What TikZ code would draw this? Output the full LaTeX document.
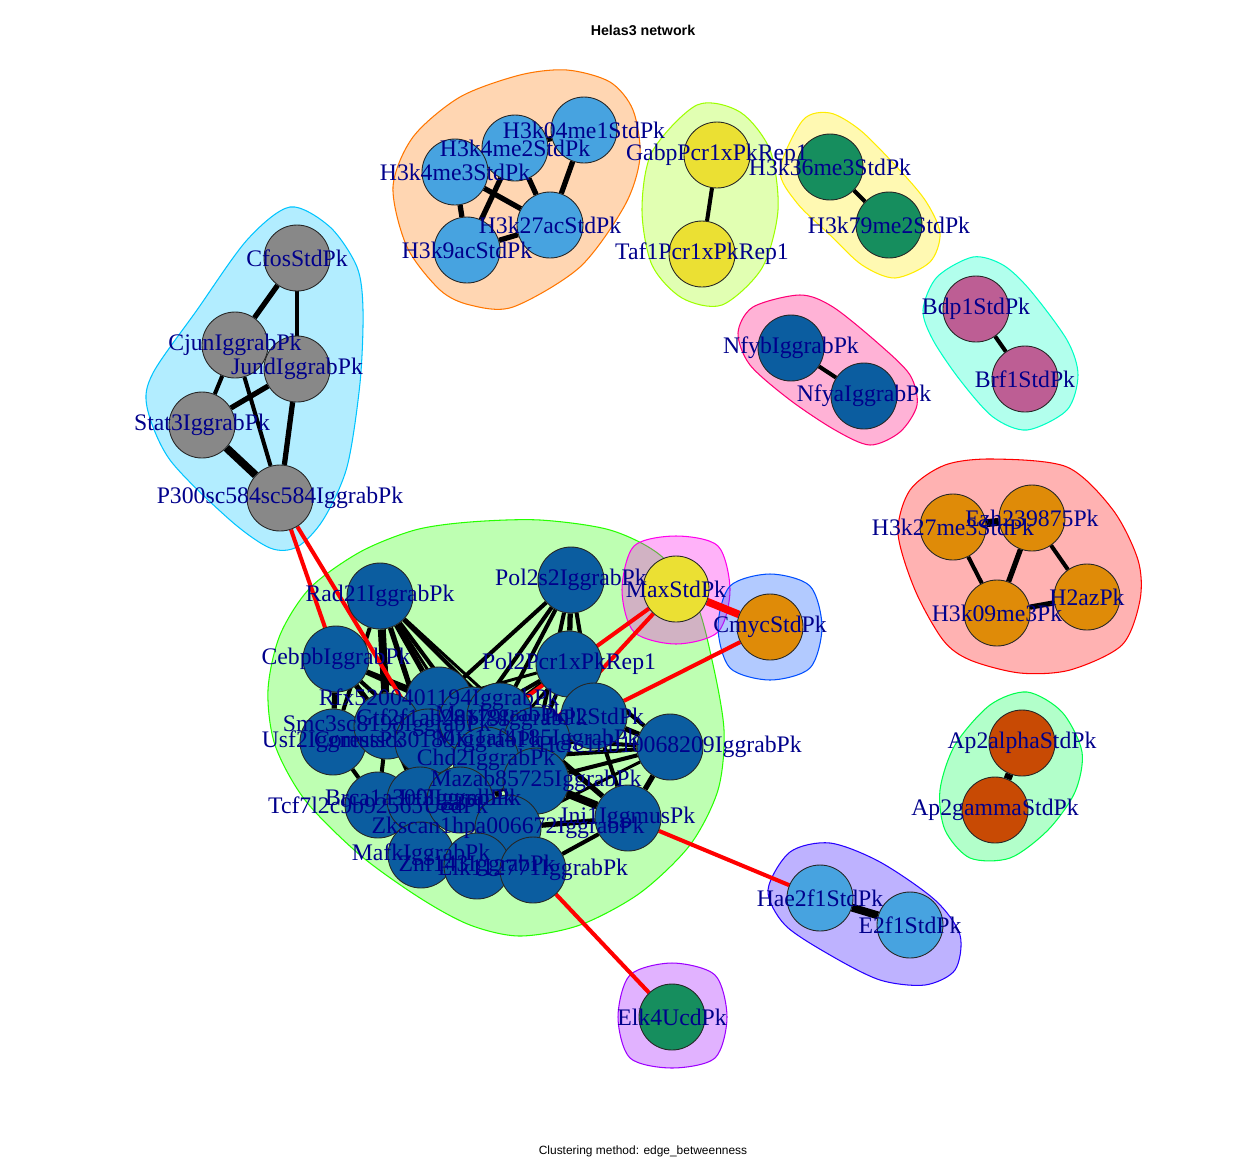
\documentclass[tikz,border=0pt]{standalone}
\usepackage{fontspec}
\setmainfont{Liberation Serif}
\newfontfamily\helvfont{Liberation Sans}
\usepackage{tikz}
\pgfdeclarelayer{hulls}
\pgfdeclarelayer{edges}
\pgfsetlayers{hulls,edges,main}

\definecolor{rbred}{HTML}{FF0000}
\definecolor{rborange}{HTML}{FF7600}
\definecolor{rbyellow}{HTML}{FFEC00}
\definecolor{rblime}{HTML}{9DFF00}
\definecolor{rbgreen}{HTML}{27FF00}
\definecolor{rbspring}{HTML}{00FF4E}
\definecolor{rbaqua}{HTML}{00FFC4}
\definecolor{rbsky}{HTML}{00C4FF}
\definecolor{rbblue}{HTML}{004EFF}
\definecolor{rbindigo}{HTML}{2700FF}
\definecolor{rbviolet}{HTML}{9D00FF}
\definecolor{rbmagenta}{HTML}{FF00EC}
\definecolor{rbpink}{HTML}{FF0076}
\definecolor{vgray}{HTML}{888888}
\definecolor{vsky}{HTML}{47A3E0}
\definecolor{vyellow}{HTML}{EBE033}
\definecolor{vgreen}{HTML}{168E5E}
\definecolor{vblue}{HTML}{0B5DA0}
\definecolor{vorange}{HTML}{DF8B08}
\definecolor{vvermil}{HTML}{C84A04}
\definecolor{vpurple}{HTML}{BD5E94}
\definecolor{lblblue}{HTML}{00008B}

\tikzstyle{point}=[circle, draw=black!85, line width=0.5pt, minimum size=1.32cm, inner sep=0pt]
\tikzstyle{pointgray}=[point, fill=vgray]
\tikzstyle{pointsky}=[point, fill=vsky]
\tikzstyle{pointyellow}=[point, fill=vyellow]
\tikzstyle{pointgreen}=[point, fill=vgreen]
\tikzstyle{pointblue}=[point, fill=vblue]
\tikzstyle{pointorange}=[point, fill=vorange]
\tikzstyle{pointvermil}=[point, fill=vvermil]
\tikzstyle{pointpurple}=[point, fill=vpurple]
\tikzstyle{lbl}=[text=lblblue, font=\fontsize{13.5}{14}\selectfont, inner sep=0pt]
\tikzstyle{hull}=[line width=0.6pt, fill opacity=0.3]
\tikzstyle{blk1}=[draw=black, line width=1.7pt]
\tikzstyle{blk2}=[draw=black, line width=2.3pt]
\tikzstyle{blk3}=[draw=black, line width=3pt]
\tikzstyle{blk4}=[draw=black, line width=4.5pt]
\tikzstyle{redge}=[draw=red, line width=2.3pt]
\tikzstyle{redgethick}=[draw=red, line width=4.3pt]

\begin{document}
\begin{tikzpicture}[x=0.02cm, y=-0.02cm]
		   \useasboundingbox (0,0) rectangle (1260,1160);
		   \node (title) at (643,30) {\helvfont\bfseries\fontsize{8.1}{10}\selectfont Helas3 network};
		   \node (sub) at (643,1151) {\helvfont\fontsize{6.8}{8}\selectfont Clustering method: edge\_betweenness};

		   \begin{pgfonlayer}{hulls}
			   \path [hull, draw=rbsky, fill=rbsky] plot [smooth cycle] coordinates {(290,207) (330,227) (357,267) (363,310) (360,383) (347,467) (323,520) (297,547) (270,548) (230,520) (170,460) (147,407) (153,373) (197,310) (247,240)};
			   \path [hull, draw=rborange, fill=rborange] plot [smooth cycle] coordinates {(460,97) (520,75) (567,70) (610,82) (633,110) (640,157) (625,205) (580,267) (513,307) (470,305) (440,290) (407,247) (393,187) (413,137)};
			   \path [hull, draw=rblime, fill=rblime] plot [smooth cycle] coordinates {(697,105) (740,112) (770,150) (778,210) (762,268) (722,305) (682,298) (652,265) (642,210) (652,152)};
			   \path [hull, draw=rbyellow, fill=rbyellow] plot [smooth cycle] coordinates {(803,120) (830,113) (860,130) (895,165) (925,200) (940,233) (930,262) (895,278) (862,265) (830,235) (797,203) (780,170)};
			   \path [hull, draw=rbpink, fill=rbpink] plot [smooth cycle] coordinates {(753,307) (800,295) (833,307) (880,345) (910,375) (917,405) (900,432) (870,445) (835,430) (790,400) (750,365) (738,333)};
			   \path [hull, draw=rbaqua, fill=rbaqua] plot [smooth cycle] coordinates {(937,277) (973,257) (1003,265) (1030,290) (1067,340) (1078,375) (1067,410) (1027,430) (993,417) (960,380) (933,340) (923,310)};
			   \path [hull, draw=rbred, fill=rbred] plot [smooth cycle] coordinates {(993,459) (1067,467) (1113,510) (1138,560) (1140,600) (1122,645) (1070,670) (1020,673) (970,660) (943,640) (915,590) (898,533) (910,490) (945,465)};
			   \path [hull, draw=rbspring, fill=rbspring] plot [smooth cycle] coordinates {(1027,692) (1062,712) (1082,752) (1075,792) (1048,830) (1010,858) (970,858) (945,830) (940,790) (955,745) (990,705)};
			   \path [hull, draw=rbgreen, fill=rbgreen] plot [smooth cycle] coordinates {(470,522) (540,520) (610,530) (660,555) (695,600) (712,660) (724,730) (718,790) (690,845) (640,893) (580,925) (520,936) (470,925) (420,898) (360,855) (305,800) (275,745) (268,690) (280,635) (310,588) (360,552) (415,530)};
			   \path [hull, draw=rbmagenta, fill=rbmagenta] plot [smooth cycle] coordinates {(676,536) (718,546) (730,590) (718,632) (676,644) (634,632) (622,590) (634,546)};
			   \path [hull, draw=rbblue, fill=rbblue] plot [smooth cycle] coordinates {(770,574) (810,586) (822,627) (810,668) (770,680) (730,668) (718,627) (730,586)};
			   \path [hull, draw=rbindigo, fill=rbindigo] plot [smooth cycle] coordinates {(790,852) (830,843) (880,862) (935,900) (960,935) (955,970) (925,985) (880,980) (830,955) (785,925) (768,890)};
			   \path [hull, draw=rbviolet, fill=rbviolet] plot [smooth cycle] coordinates {(672,963) (715,975) (727,1017) (715,1058) (672,1068) (630,1058) (618,1017) (630,975)};
		   \end{pgfonlayer}

		   \begin{scope}
			   % P300 group
			   \node (cfos) at (297,258) [pointgray] {};
			   \node (cjun) at (235,345) [pointgray] {};
			   \node (jund) at (297,369) [pointgray] {};
			   \node (stat3) at (202,425) [pointgray] {};
			   \node (p300) at (280,498) [pointgray] {};
			   % histone marks
			   \node (h3k04) at (584,130) [pointsky] {};
			   \node (h3k4me2) at (515,148) [pointsky] {};
			   \node (h3k4me3) at (455,172) [pointsky] {};
			   \node (h3k27ac) at (550,225) [pointsky] {};
			   \node (h3k9ac) at (467,250) [pointsky] {};
			   \node (gabp) at (717,155) [pointyellow] {};
			   \node (taf1) at (702,254) [pointyellow] {};
			   \node (h3k36) at (830,167) [pointgreen] {};
			   \node (h3k79) at (889,225) [pointgreen] {};
			   \node (nfyb) at (791,348) [pointblue] {};
			   \node (nfya) at (864,396) [pointblue] {};
			   \node (bdp1) at (976,309) [pointpurple] {};
			   \node (brf1) at (1025,379) [pointpurple] {};
			   \node (h3k27me3) at (953,527) [pointorange] {};
			   \node (ezh) at (1032,518) [pointorange] {};
			   \node (h2az) at (1087,597) [pointorange] {};
			   \node (h3k09) at (997,613) [pointorange] {};
			   \node (ap2a) at (1022,743) [pointvermil] {};
			   \node (ap2g) at (995,810) [pointvermil] {};
			   \node (hae2f1) at (820,898) [pointsky] {};
			   \node (e2f1) at (910,925) [pointsky] {};
			   \node (elk4) at (672,1017) [pointgreen] {};
			   \node (maxstd) at (676,589) [pointyellow] {};
			   \node (cmyc) at (770,627) [pointorange] {};
			   % big group
			   \node (rad21) at (380,596) [pointblue] {};
			   \node (pol2s2) at (571,580) [pointblue] {};
			   \node (cebpb) at (336,659) [pointblue] {};
			   \node (pol2p) at (569,664) [pointblue] {};
			   \node (hcfc1) at (670,747) [pointblue] {};
			   \node (pol2) at (594,716) [pointblue] {};
			   \node (rfx5) at (439,700) [pointblue] {};
			   \node (usf2) at (333,742) [pointblue] {};
			   \node (smc3) at (387,726) [pointblue] {};
			   \node (corest) at (428,742) [pointblue] {};
			   \node (gtf2f1) at (472,720) [pointblue] {};
			   \node (max) at (500,716) [pointblue] {};
			   \node (mxi1) at (537,740) [pointblue] {};
			   \node (chd2) at (486,760) [pointblue] {};
			   \node (maz) at (536,781) [pointblue] {};
			   \node (ini1) at (628,818) [pointblue] {};
			   \node (tcf7l2) at (378,805) [pointblue] {};
			   \node (brca1) at (420,800) [pointblue] {};
			   \node (irf3) at (460,800) [pointblue] {};
			   \node (zkscan1) at (508,828) [pointblue] {};
			   \node (mafk) at (421,855) [pointblue] {};
			   \node (znf143) at (477,866) [pointblue] {};
			   \node (elk1) at (533,870) [pointblue] {};
		   \end{scope}

		   \begin{pgfonlayer}{edges}
			   \path [blk3] (cfos) edge (cjun);
			   \path [blk2] (cfos) edge (jund);
			   \path [blk2] (cjun) edge (stat3);
			   \path [blk2] (cjun) edge (p300);
			   \path [blk3] (jund) edge (stat3);
			   \path [blk3] (jund) edge (p300);
			   \path [blk4] (stat3) edge (p300);

			   \path [blk3] (h3k04) edge (h3k27ac);
			   \path [blk3] (h3k04) edge (h3k4me2);
			   \path [blk3] (h3k4me2) edge (h3k27ac);
			   \path [blk3] (h3k4me2) edge (h3k9ac);
			   \path [blk3] (h3k4me3) edge (h3k27ac);
			   \path [blk3] (h3k4me3) edge (h3k9ac);
			   \path [blk3] (h3k9ac) edge (h3k27ac);
			   \path [blk2] (gabp) edge (taf1);
			   \path [blk2] (h3k36) edge (h3k79);
			   \path [blk2] (nfyb) edge (nfya);
			   \path [blk2] (bdp1) edge (brf1);
			   \path [blk4] (h3k27me3) edge (ezh);
			   \path [blk2] (h3k27me3) edge (h3k09);
			   \path [blk3] (ezh) edge (h3k09);
			   \path [blk2] (ezh) edge (h2az);
			   \path [blk3] (h3k09) edge (h2az);
			   \path [blk4] (ap2a) edge (ap2g);
			   \path [blk4] (hae2f1) edge (e2f1);

			   \path [blk4] (rad21) edge (smc3);
			   \path [blk3] (rad21) edge (rfx5);
			   \path [blk2] (rad21) edge (gtf2f1);
			   \path [blk2] (rad21) edge (max);
			   \path [blk3] (rad21) edge (corest);
			   \path [blk1] (rad21) edge (mxi1);
			   \path [blk2] (rad21) edge (usf2);
			   \path [blk1] (rad21) edge (chd2);
			   \path [blk3] (cebpb) edge (smc3);
			   \path [blk3] (cebpb) edge (usf2);
			   \path [blk2] (cebpb) edge (corest);
			   \path [blk2] (cebpb) edge (rfx5);
			   \path [blk2] (cebpb) edge (gtf2f1);
			   \path [blk3] (pol2s2) edge (pol2p);
			   \path [blk2] (pol2s2) edge (max);
			   \path [blk2] (pol2s2) edge (rfx5);
			   \path [blk2] (pol2s2) edge (gtf2f1);
			   \path [blk2] (pol2s2) edge (mxi1);
			   \path [blk2] (pol2s2) edge (pol2);
			   \path [blk1] (pol2p) edge (rfx5);
			   \path [blk3] (pol2p) edge (max);
			   \path [blk2] (pol2p) edge (mxi1);
			   \path [blk3] (pol2p) edge (pol2);
			   \path [blk2] (pol2p) edge (hcfc1);
			   \path [blk2] (pol2p) edge (gtf2f1);
			   \path [blk1] (pol2p) edge (chd2);
			   \path [blk3] (pol2) edge (hcfc1);
			   \path [blk2] (pol2) edge (ini1);
			   \path [blk2] (pol2) edge (mxi1);
			   \path [blk2] (pol2) edge (maz);
			   \path [blk2] (pol2) edge (max);
			   \path [blk3] (hcfc1) edge (ini1);
			   \path [blk2] (hcfc1) edge (maz);
			   \path [blk2] (hcfc1) edge (mxi1);
			   \path [blk2] (hcfc1) edge (chd2);
			   \path [blk1] (hcfc1) edge (zkscan1);
			   \path [blk4] (ini1) edge (maz);
			   \path [blk3] (ini1) edge (mxi1);
			   \path [blk3] (ini1) edge (zkscan1);
			   \path [blk2] (ini1) edge (elk1);
			   \path [blk2] (ini1) edge (chd2);
			   \path [blk2] (usf2) edge (tcf7l2);
			   \path [blk2] (smc3) edge (tcf7l2);
			   \path [blk2] (smc3) edge (brca1);
			   \path [blk2] (corest) edge (brca1);
			   \path [blk3] (usf2) edge (smc3);
			   \path [blk2] (chd2) edge (zkscan1);
			   \path [blk2] (irf3) edge (zkscan1);
			   \path [blk2] (mafk) edge (zkscan1);
			   \path [blk2] (znf143) edge (elk1);
			   \path [blk2] (maz) edge (zkscan1);
			   \path [blk2] (brca1) edge (mafk);
			   \path [blk1] (tcf7l2) edge (mafk);
			   \path [blk2] (zkscan1) edge (elk1);
			   \path [blk2] (irf3) edge (maz);
			   \path [blk2] (corest) edge (chd2);
			   \path [blk2] (rfx5) edge (max);
			   \path [blk2] (mxi1) edge (maz);

			   \path [redge] (p300) edge (cebpb);
			   \path [redge] (p300) edge (corest);
			   \path [redge] (maxstd) edge (max);
			   \path [redge] (maxstd) edge (mxi1);
			   \path [redgethick] (maxstd) edge (cmyc);
			   \path [redge] (cmyc) edge (pol2);
			   \path [redge] (ini1) edge (hae2f1);
			   \path [redge] (elk1) edge (elk4);
		   \end{pgfonlayer}

		   \begin{scope}
			   \node (cfosl) at (cfos) [lbl] {CfosStdPk};
			   \node (cjunl) at (cjun) [lbl] {CjunIggrabPk};
			   \node (jundl) at (jund) [lbl] {JundIggrabPk};
			   \node (stat3l) at (stat3) [lbl] {Stat3IggrabPk};
			   \node (p300l) at (p300) [lbl] {P300sc584sc584IggrabPk};
			   \node (h3k04l) at (h3k04) [lbl] {H3k04me1StdPk};
			   \node (h3k4me2l) at (h3k4me2) [lbl] {H3k4me2StdPk};
			   \node (h3k4me3l) at (h3k4me3) [lbl] {H3k4me3StdPk};
			   \node (h3k27acl) at (h3k27ac) [lbl] {H3k27acStdPk};
			   \node (h3k9acl) at (h3k9ac) [lbl] {H3k9acStdPk};
			   \node (gabpl) at (gabp) [lbl] {GabpPcr1xPkRep1};
			   \node (taf1l) at (taf1) [lbl] {Taf1Pcr1xPkRep1};
			   \node (h3k36l) at (h3k36) [lbl] {H3k36me3StdPk};
			   \node (h3k79l) at (h3k79) [lbl] {H3k79me2StdPk};
			   \node (nfybl) at (nfyb) [lbl] {NfybIggrabPk};
			   \node (nfyal) at (nfya) [lbl] {NfyaIggrabPk};
			   \node (bdp1l) at (bdp1) [lbl] {Bdp1StdPk};
			   \node (brf1l) at (brf1) [lbl] {Brf1StdPk};
			   \node (h3k27me3l) at (h3k27me3) [lbl] {H3k27me3StdPk};
			   \node (ezhl) at (ezh) [lbl] {Ezh239875Pk};
			   \node (h2azl) at (h2az) [lbl] {H2azPk};
			   \node (h3k09l) at (h3k09) [lbl] {H3k09me3Pk};
			   \node (ap2al) at (ap2a) [lbl] {Ap2alphaStdPk};
			   \node (ap2gl) at (ap2g) [lbl] {Ap2gammaStdPk};
			   \node (hae2f1l) at (hae2f1) [lbl] {Hae2f1StdPk};
			   \node (e2f1l) at (e2f1) [lbl] {E2f1StdPk};
			   \node (elk4l) at (elk4) [lbl] {Elk4UcdPk};
			   \node (maxstdl) at (maxstd) [lbl] {MaxStdPk};
			   \node (cmycl) at (cmyc) [lbl] {CmycStdPk};
			   \node (rad21l) at (rad21) [lbl] {Rad21IggrabPk};
			   \node (pol2s2l) at (pol2s2) [lbl] {Pol2s2IggrabPk};
			   \node (cebpbl) at (cebpb) [lbl] {CebpbIggrabPk};
			   \node (pol2pl) at (pol2p) [lbl] {Pol2Pcr1xPkRep1};
			   \node (hcfc1l) at (hcfc1) [lbl] {Hcfc1nb10068209IggrabPk};
			   \node (pol2l) at (pol2) [lbl] {Pol2StdPk};
			   \node (rfx5l) at (rfx5) [lbl] {Rfx5200401194IggrabPk};
			   \node (usf2l) at (usf2) [lbl] {Usf2IggmusPk};
			   \node (smc3l) at (smc3) [lbl] {Smc3sc8198IggrabPk};
			   \node (corestl) at (corest) [lbl] {Corestsc30189IggrabPk};
			   \node (gtf2f1l) at (gtf2f1) [lbl] {Gtf2f1ab28179IggrabPk};
			   \node (maxl) at (max) [lbl] {MaxIggrabPk};
			   \node (mxi1l) at (mxi1) [lbl] {Mxi1af4185IggrabPk};
			   \node (chd2l) at (chd2) [lbl] {Chd2IggrabPk};
			   \node (mazl) at (maz) [lbl] {Mazab85725IggrabPk};
			   \node (ini1l) at (ini1) [lbl] {Ini1IggmusPk};
			   \node (tcf7l2l) at (tcf7l2) [lbl] {Tcf7l2c9b92565UcdPk};
			   \node (brca1l) at (brca1) [lbl] {Brca1a300IggrabPk};
			   \node (irf3l) at (irf3) [lbl] {Irf3IggrabPk};
			   \node (zkscan1l) at (zkscan1) [lbl] {Zkscan1hpa006672IggrabPk};
			   \node (mafkl) at (mafk) [lbl] {MafkIggrabPk};
			   \node (znf143l) at (znf143) [lbl] {Znf143IggrabPk};
			   \node (elk1l) at (elk1) [lbl] {Elk112771IggrabPk};
		   \end{scope}
\end{tikzpicture}
\end{document}
